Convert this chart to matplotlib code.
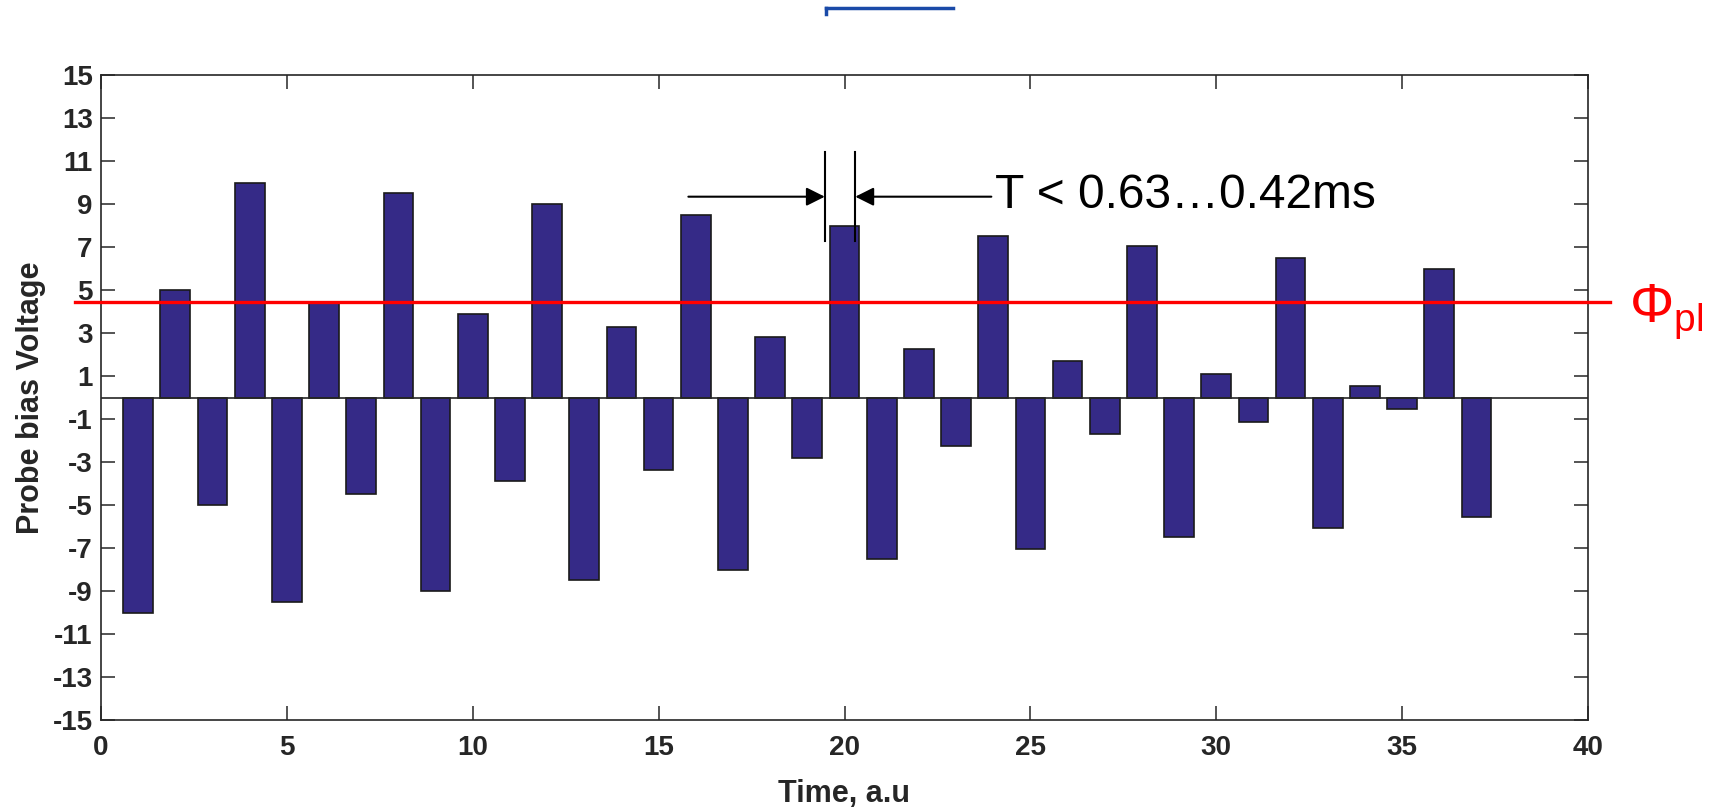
import matplotlib
matplotlib.use("Agg")
import matplotlib.pyplot as plt
from matplotlib.lines import Line2D

plt.rcParams['font.family'] = ['Liberation Sans', 'DejaVu Sans']
plt.rcParams['mathtext.fontset'] = 'custom'
plt.rcParams['mathtext.rm'] = 'Liberation Sans'
plt.rcParams['axes.unicode_minus'] = False

# data
time_idx = list(range(1, 38))
voltage = [-10, 5, -5, 10, -9.5, 4.45, -4.5, 9.5, -9, 3.9,
           -3.9, 9, -8.5, 3.3, -3.35, 8.5, -8, 2.8, -2.8, 8,
           -7.5, 2.25, -2.25, 7.5, -7.05, 1.7, -1.7, 7.05, -6.5, 1.1,
           -1.15, 6.5, -6.05, 0.55, -0.55, 6.0, -5.55]
phi_pl = 4.43
x_ticks = list(range(0, 41, 5))
y_ticks = list(range(-15, 16, 2))
period_left, period_right = 19.47, 20.29

fig = plt.figure(figsize=(17.12, 8.09), dpi=100)
ax = fig.add_axes([101 / 1712, 1 - 720 / 809, (1588 - 101) / 1712, (720 - 75) / 809])

ax.bar(time_idx, voltage, width=0.8, color='#352a87', edgecolor='#1a1a1a', linewidth=1.2, zorder=2)
ax.axhline(0, color='#262626', lw=1.2, zorder=3)

ax.set_xlim(0, 40)
ax.set_ylim(-15, 15)
ax.set_xticks(x_ticks)
ax.set_yticks(y_ticks)
ax.tick_params(direction='in', top=True, right=True, length=10, width=1.1,
               labelsize=20, labelcolor='#262626', color='#262626')
ax.tick_params(axis='x', pad=11)
ax.tick_params(axis='y', pad=6)
for lab in ax.get_xticklabels() + ax.get_yticklabels():
    lab.set_fontweight('bold')
for sp in ax.spines.values():
    sp.set_color('#262626')
    sp.set_linewidth(1.2)

ax.set_xlabel('Time, a.u', fontsize=22, fontweight='bold', color='#262626', va='center')
ax.xaxis.set_label_coords(0.5, -0.1147)
ax.set_ylabel('Probe bias Voltage', fontsize=22, fontweight='bold', color='#262626',
              va='center', ha='center')
ax.yaxis.set_label_coords(-0.047, 0.5)

# plasma potential line
ax.plot([-0.7, 40.6], [phi_pl, phi_pl], color='red', lw=2.4, clip_on=False, zorder=4)
ax.text(41.1, 3.5, 'Φ$_{\\mathrm{pl}}$', color='red', fontsize=40, va='baseline', clip_on=False)

# period markers
ax.plot([period_left, period_left], [7.27, 11.43], color='black', lw=1.5, zorder=5)
ax.plot([period_right, period_right], [7.27, 11.43], color='black', lw=1.5, zorder=5)
ax.annotate('', xy=(period_left, 9.34), xytext=(15.8, 9.34),
            arrowprops=dict(arrowstyle='-|>', color='black', lw=1.5, mutation_scale=28,
                            shrinkA=0, shrinkB=0))
ax.annotate('', xy=(period_right, 9.34), xytext=(23.95, 9.34),
            arrowprops=dict(arrowstyle='-|>', color='black', lw=1.5, mutation_scale=28,
                            shrinkA=0, shrinkB=0))
ax.text(24.05, 8.81, 'T < 0.63\u20260.42ms', fontsize=34.5, color='black', va='baseline')

# blue fragment at the top edge
fig.add_artist(Line2D([826 / 1712, 953 / 1712], [1 - 7.7 / 809, 1 - 7.7 / 809],
                      transform=fig.transFigure, color='#1a4aa8', lw=2.5))
fig.add_artist(Line2D([826 / 1712, 826 / 1712], [1 - 7.7 / 809, 1 - 14 / 809],
                      transform=fig.transFigure, color='#1a4aa8', lw=2.5))

fig.savefig('out.png', dpi=100)
